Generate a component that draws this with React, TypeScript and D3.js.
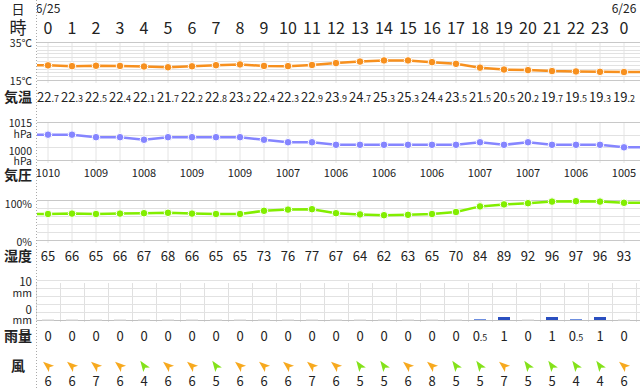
import React from 'react';
import * as d3 from 'd3';

const hours = [0, 1, 2, 3, 4, 5, 6, 7, 8, 9, 10, 11, 12, 13, 14, 15, 16, 17, 18, 19, 20, 21, 22, 23, 0];
const dateLabels = [
  { idx: 0, text: '6/25' },
  { idx: 24, text: '6/26' },
];
const temps = [22.7, 22.3, 22.5, 22.4, 22.1, 21.7, 22.2, 22.8, 23.2, 22.4, 22.3, 22.9, 23.9, 24.7, 25.3, 25.3, 24.4, 23.5, 21.5, 20.5, 20.2, 19.7, 19.5, 19.3, 19.2];
const pressure = [1010, 1010, 1009, 1009, 1008, 1009, 1009, 1009, 1009, 1008, 1007, 1007, 1006, 1006, 1006, 1006, 1006, 1006, 1007, 1006, 1007, 1006, 1006, 1006, 1005];
const humidity = [65, 66, 65, 66, 67, 68, 66, 65, 65, 73, 76, 77, 67, 64, 62, 63, 65, 70, 84, 89, 92, 96, 97, 96, 93];
const rain = [0, 0, 0, 0, 0, 0, 0, 0, 0, 0, 0, 0, 0, 0, 0, 0, 0, 0, 0.5, 1, 0, 1, 0.5, 1, 0];
const windSpeed = [6, 6, 7, 6, 4, 6, 6, 5, 6, 6, 6, 7, 6, 5, 5, 6, 8, 5, 5, 7, 5, 5, 4, 4, 6];
// direction the arrow points to (degrees, 0 = up, negative = counter-clockwise)
const windDir = [-50, -50, -50, -50, -35, -50, -50, -35, -50, -50, -50, -50, -50, -35, -35, -50, -50, -35, -35, -50, -35, -35, -35, -35, -50];

const FONT = "'Noto Sans CJK JP', 'Noto Sans', sans-serif";
const TXT = '#222';
const LEFT = 37;
const RIGHT = 640;

const x = d3.scaleLinear().domain([0, 24]).range([48, 624]);
const idx = d3.range(hours.length);

const yT = d3.scaleLinear().domain([15, 35]).range([80, 42]);
const yP = d3.scaleLinear().domain([1000, 1015]).range([160, 122]);
const yH = d3.scaleLinear().domain([0, 100]).range([240, 200]);
const yR = d3.scaleLinear().domain([0, 10]).range([320, 280]);

function extendedLine(vals: number[], y: d3.ScaleLinear<number, number>) {
  const pts: [number, number][] = [[LEFT, y(vals[0])]];
  vals.forEach((v, i) => pts.push([x(i), y(v)]));
  pts.push([RIGHT, y(vals[vals.length - 1])]);
  return d3.line()(pts) || '';
}

function Grid({ ticks, y, top, bottom }: { ticks: number[]; y: d3.ScaleLinear<number, number>; top: number; bottom: number }) {
  return (
    <g>
      {idx.map((i) => (
        <line key={'v' + i} x1={x(i)} x2={x(i)} y1={top} y2={bottom + 3} stroke="#e4e4e4" strokeWidth={1} />
      ))}
      {ticks.map((t, k) => {
        const edge = k === 0 || k === ticks.length - 1;
        return (
          <line key={'h' + t} x1={LEFT} x2={RIGHT} y1={Math.round(y(t)) + 0.5} y2={Math.round(y(t)) + 0.5}
            stroke={edge ? '#c8c8c8' : '#e2e2e2'} strokeWidth={1} />
        );
      })}
    </g>
  );
}

function Series({ vals, y, color }: { vals: number[]; y: d3.ScaleLinear<number, number>; color: string }) {
  return (
    <g>
      <path d={extendedLine(vals, y)} fill="none" stroke={color} strokeWidth={2.5} />
      {vals.map((v, i) => (
        <circle key={i} cx={x(i)} cy={y(v)} r={3.8} fill={color} stroke="#fff" strokeWidth={1} />
      ))}
    </g>
  );
}

function SplitNum({ v, cx, y, big, small }: { v: number; cx: number; y: number; big: number; small: number }) {
  const s = String(v);
  const [a, b] = s.split('.');
  return (
    <text x={cx} y={y} textAnchor="middle" fontSize={big} fill={TXT} fontFamily={FONT}>
      <tspan>{a}</tspan>
      {b !== undefined && <tspan fontSize={small}>.{b}</tspan>}
    </text>
  );
}

function Arrow({ cx, cy, angle, color }: { cx: number; cy: number; angle: number; color: string }) {
  return (
    <path d="M0,-6.5 L4,4.5 L0,2 L-4,4.5 Z" fill={color}
      transform={`translate(${cx},${cy}) rotate(${angle})`} />
  );
}

export default function App() {
  const tempTicks = d3.range(15, 36, 2).concat([35]).filter((v, i, a) => a.indexOf(v) === i).sort((a, b) => a - b);
  const rightLabel = (t: string, yy: number, size = 10.5) => (
    <text x={32} y={yy} textAnchor="end" fontSize={size} fill={TXT} fontFamily={FONT}>{t}</text>
  );
  const leftTitle = (t: string, yy: number, bold = true, size = 14) => (
    <text x={18} y={yy} textAnchor="middle" fontSize={size} fontWeight={bold ? 700 : 400} fill={TXT} fontFamily={FONT}>{t}</text>
  );
  const rainColor = (v: number) => (v >= 1 ? '#2a4fc0' : '#6e8fe0');

  return (
    <div style={{ position: 'fixed', left: 0, top: 0 }}>
      <svg width={640} height={390} style={{ display: 'block', background: '#fff' }}>
        <defs>
          <clipPath id="plot"><rect x={LEFT} y={0} width={RIGHT - LEFT} height={390} /></clipPath>
        </defs>

        {/* header */}
        {leftTitle('日', 14, false, 13)}
        {leftTitle('時', 34, false, 17)}
        <g clipPath="url(#plot)">
          {dateLabels.map((d) => (
            <text key={d.text} x={x(d.idx)} y={13} textAnchor="middle" fontSize={12} fill={TXT} fontFamily={FONT}>{d.text}</text>
          ))}
          {hours.map((h, i) => (
            <text key={i} x={x(i)} y={34} textAnchor="middle" fontSize={16} fill={TXT} fontFamily={FONT}>{h}</text>
          ))}
        </g>

        {/* temperature */}
        <Grid ticks={tempTicks} y={yT} top={42} bottom={80} />
        {rightLabel('35℃', 47)}
        {rightLabel('15℃', 85)}
        <Series vals={temps} y={yT} color="#f7901e" />
        {temps.map((v, i) => (
          <SplitNum key={i} v={v} cx={x(i)} y={101.5} big={13} small={9} />
        ))}
        {leftTitle('気温', 102)}

        {/* pressure */}
        <Grid ticks={[1000, 1005, 1010, 1015]} y={yP} top={122} bottom={160} />
        {rightLabel('1015', 127)}
        {rightLabel('hPa', 137.5)}
        {rightLabel('1000', 154.5)}
        {rightLabel('hPa', 165)}
        <Series vals={pressure} y={yP} color="#8585ff" />
        {pressure.map((v, i) => (i % 2 === 0 ? (
          <text key={i} x={x(i)} y={176.5} textAnchor="middle" fontSize={11} fill={TXT} fontFamily={FONT}>{v}</text>
        ) : null))}
        {leftTitle('気圧', 180)}

        {/* humidity */}
        <Grid ticks={[0, 20, 40, 60, 80, 100]} y={yH} top={200} bottom={240} />
        {rightLabel('100%', 207.5)}
        {rightLabel('0%', 245.5)}
        <Series vals={humidity} y={yH} color="#82ee00" />
        {humidity.map((v, i) => (
          <text key={i} x={x(i)} y={260.5} textAnchor="middle" fontSize={13} fill={TXT} fontFamily={FONT}>{v}</text>
        ))}
        {leftTitle('湿度', 261)}

        {/* rain */}
        <g>
          {d3.range(-1, 25).map((i) => (
            <line key={'rv' + i} x1={x(i) + 12.5} x2={x(i) + 12.5} y1={283} y2={322} stroke="#e0e0e0" />
          ))}
          {[0, 2, 4, 6, 8, 10].map((t, k) => (
            <line key={'rh' + t} x1={LEFT} x2={RIGHT} y1={Math.round(yR(t)) + 0.5} y2={Math.round(yR(t)) + 0.5}
              stroke={k === 0 ? '#c0c0c0' : '#e2e2e2'} />
          ))}
        </g>
        {rightLabel('10', 285.5, 11.5)}
        {rightLabel('mm', 296.5)}
        {rightLabel('0', 314, 11.5)}
        {rightLabel('mm', 323.5)}
        {rain.map((v, i) => (
          v > 0 ? (
            <rect key={i} x={x(i) - 6} y={yR(v) + 1} width={12} height={yR(0) - yR(v) - 1} fill={rainColor(v)} />
          ) : (
            <rect key={i} x={x(i) - 6} y={319.5} width={12} height={1.5} fill="#cfcfcf" />
          )
        ))}
        {rain.map((v, i) => (
          <SplitNum key={i} v={v} cx={x(i)} y={340.5} big={13} small={9} />
        ))}
        {leftTitle('雨量', 341)}

        {/* wind */}
        {windSpeed.map((v, i) => (
          <Arrow key={i} cx={x(i)} cy={366} angle={windDir[i]} color={v <= 5 ? '#84e21a' : '#f7a91e'} />
        ))}
        {windSpeed.map((v, i) => (
          <text key={i} x={x(i)} y={386} textAnchor="middle" fontSize={13} fill={TXT} fontFamily={FONT}>{v}</text>
        ))}
        {leftTitle('風', 371)}

        {/* dotted separator */}
        <line x1={36.5} x2={36.5} y1={0} y2={390} stroke="#aaa" strokeWidth={1} strokeDasharray="1,2" />
      </svg>
    </div>
  );
}
